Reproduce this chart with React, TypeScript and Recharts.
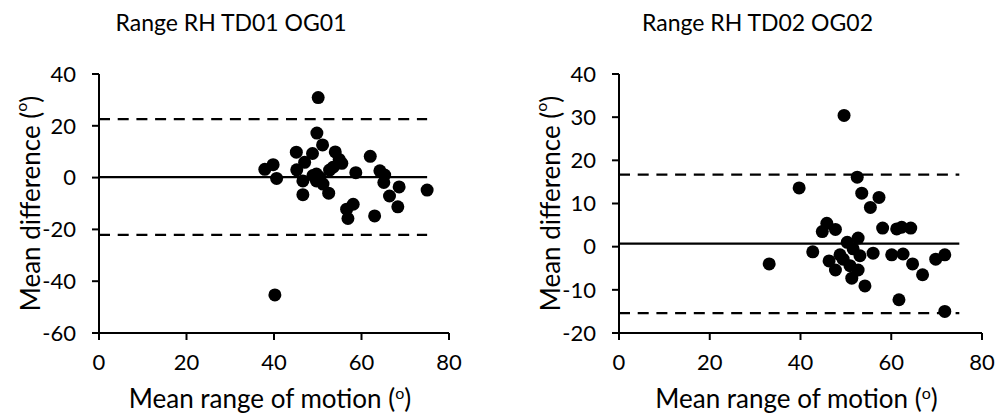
import {
    ScatterChart,
    Scatter,
    XAxis,
    YAxis,
    ReferenceLine,
    Label,
} from 'recharts';

// values
const xTicks = [0, 20, 40, 60, 80];
const leftYTicks = [-60, -40, -20, 0, 20, 40];
const rightYTicks = [-20, -10, 0, 10, 20, 30, 40];
const lineEnd = 75;

const leftRom = [
    37.9, 39.8, 40.6, 40.2, 45.1, 45.2, 46.6, 46.6, 47.0, 48.8, 48.9, 49.7, 49.7,
    49.8, 50.1, 50.5, 51.1, 51.2, 52.5, 52.7, 53.5, 54.0, 54.9, 55.5, 56.6, 56.9,
    58.1, 58.7, 62.0, 63.0, 64.2, 65.3, 65.1, 66.4, 68.6, 68.3, 75.0,
];
const leftDiff = [
    3.2, 5.0, -0.3, -45.3, 9.8, 3.0, -1.3, -6.6, 5.9, 9.3, 0.8, 1.4, -1.3,
    17.2, 30.9, 0.0, 12.6, -2.5, -6.0, 2.9, 4.0, 9.9, 7.0, 5.5, -12.2, -15.8,
    -10.3, 1.9, 8.2, -14.8, 2.6, 1.0, -1.9, -7.1, -3.6, -11.3, -4.8,
];
const leftMean = 0.2;
const leftUpper = 22.6;
const leftLower = -22.1;

const rightRom = [
    33.1, 39.7, 42.7, 44.8, 45.8, 46.3, 47.7, 47.7, 48.7, 49.4, 49.6, 50.3, 50.9,
    51.3, 51.6, 52.5, 52.7, 52.7, 53.1, 53.5, 54.2, 55.4, 56.0, 57.3, 58.1, 60.1,
    61.2, 61.7, 62.3, 62.6, 64.3, 64.7, 66.9, 69.8, 71.8, 71.8,
];
const rightDiff = [
    -4.0, 13.6, -1.2, 3.5, 5.4, -3.3, 4.0, -5.4, -1.9, -2.9, 30.4, 1.0, -4.4,
    -7.3, -0.5, 16.1, 2.0, -5.4, -2.1, 12.4, -9.1, 9.1, -1.5, 11.4, 4.3, -1.9,
    4.1, -12.3, 4.5, -1.7, 4.3, -4.0, -6.5, -2.9, -1.9, -15.0,
];
const rightMean = 0.7;
const rightUpper = 16.7;
const rightLower = -15.4;

const FONT = 'Lato, sans-serif';

const Dot = (props: any) => <circle cx={props.cx} cy={props.cy} r={6.5} fill="#000" />;

const XTitle = (props: any) => {
    const { x, y, width } = props.viewBox;
    return (
        <text x={x + width / 2 - 4} y={y + 75} textAnchor="middle" fontSize={26} fill="#000" fontFamily={FONT}>
            Mean range of motion (<tspan baselineShift="super" fontSize={16}>o</tspan>)
        </text>
    );
};

const YTitle = (props: any) => {
    const { x, y, height } = props.viewBox;
    const cx = x - 9;
    const cy = y + height / 2;
    return (
        <text
            x={cx}
            y={cy}
            transform={`rotate(-90 ${cx} ${cy})`}
            textAnchor="middle"
            dominantBaseline="central"
            fontSize={26}
            fill="#000"
            fontFamily={FONT}
        >
            Mean difference (<tspan baselineShift="super" fontSize={16}>o</tspan>)
        </text>
    );
};

type PanelProps = {
    title: string;
    rom: number[];
    diff: number[];
    mean: number;
    upper: number;
    lower: number;
    yTicks: number[];
    left: number;
    margin: { top: number; right: number; bottom: number; left: number };
    titleCenter: number;
};

const Panel = ({ title, rom, diff, mean, upper, lower, yTicks, left, margin, titleCenter }: PanelProps) => {
    const data = rom.map((x, i) => ({ x, y: diff[i] }));
    const axisStyle = { stroke: '#000', strokeWidth: 2 };
    const tickStyle = { fill: '#000', fontSize: 22, fontFamily: FONT };
    return (
        <div style={{ position: 'absolute', left, top: 0, width: 500, height: 416 }}>
            <div
                style={{
                    position: 'absolute',
                    left: titleCenter - 150,
                    width: 300,
                    top: 8,
                    textAlign: 'center',
                    fontSize: 23,
                    fontFamily: FONT,
                    color: '#000',
                }}
            >
                {title}
            </div>
            <ScatterChart width={500} height={416} margin={margin}>
                <XAxis
                    dataKey="x"
                    type="number"
                    domain={[0, 80]}
                    ticks={xTicks}
                    axisLine={axisStyle}
                    tickLine={axisStyle}
                    tickSize={7}
                    tickMargin={14}
                    tick={tickStyle}
                    height={60}
                    interval={0}
                >
                    <Label content={XTitle} />
                </XAxis>
                <YAxis
                    dataKey="y"
                    type="number"
                    domain={[yTicks[0], yTicks[yTicks.length - 1]]}
                    ticks={yTicks}
                    axisLine={axisStyle}
                    tickLine={axisStyle}
                    tickSize={7}
                    tickMargin={16}
                    tick={tickStyle}
                    width={60}
                    interval={0}
                >
                    <Label content={YTitle} />
                </YAxis>
                <ReferenceLine
                    segment={[{ x: 0, y: upper }, { x: lineEnd, y: upper }]}
                    stroke="#000"
                    strokeWidth={2.3}
                    strokeDasharray="11 7.7"
                />
                <ReferenceLine
                    segment={[{ x: 0, y: lower }, { x: lineEnd, y: lower }]}
                    stroke="#000"
                    strokeWidth={2.3}
                    strokeDasharray="11 7.7"
                />
                <ReferenceLine
                    segment={[{ x: 0, y: mean }, { x: lineEnd, y: mean }]}
                    stroke="#000"
                    strokeWidth={2.3}
                />
                <Scatter data={data} shape={Dot} isAnimationActive={false} />
            </ScatterChart>
        </div>
    );
};

export default function App() {
    return (
        <div style={{ position: 'absolute', left: 0, top: 0, width: 1000, height: 416, background: '#fff', fontFamily: FONT }}>
            <Panel
                title="Range RH TD01 OG01"
                rom={leftRom}
                diff={leftDiff}
                mean={leftMean}
                upper={leftUpper}
                lower={leftLower}
                yTicks={leftYTicks}
                left={0}
                margin={{ top: 74, right: 51, bottom: 23, left: 39 }}
                titleCenter={231}
            />
            <Panel
                title="Range RH TD02 OG02"
                rom={rightRom}
                diff={rightDiff}
                mean={rightMean}
                upper={rightUpper}
                lower={rightLower}
                yTicks={rightYTicks}
                left={500}
                margin={{ top: 74, right: 18, bottom: 23, left: 59 }}
                titleCenter={257.5}
            />
        </div>
    );
}
